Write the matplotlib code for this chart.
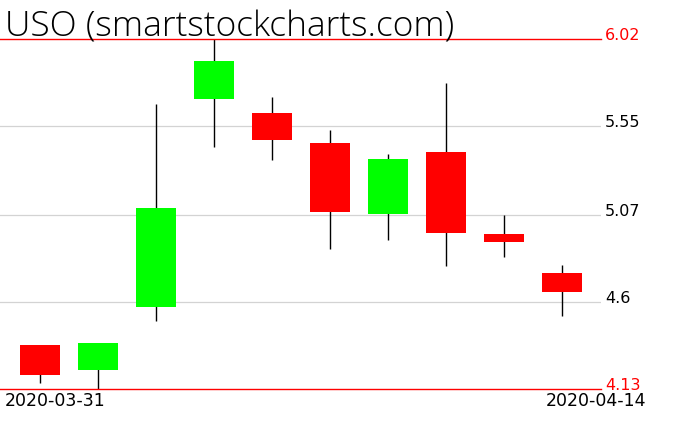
import matplotlib
matplotlib.use("Agg")
import matplotlib.pyplot as plt
from matplotlib.patches import Rectangle

# USO daily candles
dates = ["2020-03-31", "2020-04-01", "2020-04-02", "2020-04-03", "2020-04-06",
         "2020-04-07", "2020-04-08", "2020-04-09", "2020-04-13", "2020-04-14"]
opens = [4.37, 4.236, 4.576, 5.699, 5.622, 5.46, 5.077, 5.411, 4.969, 4.758]
highs = [4.37, 4.38, 5.671, 6.02, 5.708, 5.53, 5.401, 5.784, 5.071, 4.801]
lows = [4.162, 4.13, 4.50, 5.44, 5.37, 4.889, 4.938, 4.797, 4.846, 4.527]
closes = [4.209, 4.38, 5.109, 5.903, 5.478, 5.089, 5.374, 4.976, 4.927, 4.657]

grid_levels = [5.55, 5.07, 4.6]
grid_labels = ["5.55", "5.07", "4.6"]
y_max, y_min = 6.02, 4.13
title = "USO (smartstockcharts.com)"

W, H = 676, 431
fig = plt.figure(figsize=(W / 100, H / 100), dpi=100)
fig.patch.set_facecolor("white")

title_fam = ["Open Sans", "Roboto", "DejaVu Sans"]
lab_fam = ["DejaVu Sans"]
lab_size = 11.5
date_size = 12.5

# axes box in pixels: x 0..601, y 40.3..390.3 (from the top)
ax = fig.add_axes([0, 1 - 390.3 / H, 601 / W, 350 / H])
ax.set_xlim(-0.684, 9.678)
ax.set_ylim(y_min, y_max)
ax.axis("off")

for lvl in grid_levels:
    ax.axhline(lvl, color="#d3d3d3", lw=0.9, zorder=0)
ax.axhline(y_max, color="#ff0000", lw=1.0, zorder=3, clip_on=False)
ax.axhline(y_min, color="#ff0000", lw=1.0, zorder=3, clip_on=False)

bw = 0.69
for i in range(len(dates)):
    o, h, l, c = opens[i], highs[i], lows[i], closes[i]
    col = "#00ff00" if c >= o else "#ff0000"
    ax.vlines(i, l, h, color="black", lw=1.0, zorder=1, clip_on=False)
    ax.add_patch(Rectangle((i - bw / 2, min(o, c)), bw, abs(c - o),
                           facecolor=col, edgecolor="none", zorder=2))

# right-side price labels, baseline on the line
trans = ax.get_yaxis_transform()
for lvl, lab in zip(grid_levels, grid_labels):
    ax.text(1.0065, lvl, lab, transform=trans, ha="left", va="baseline",
            fontsize=lab_size, color="black", family=lab_fam, clip_on=False)
ax.text(1.0065, y_max, "6.02", transform=trans, ha="left", va="baseline",
        fontsize=lab_size, color="#ff0000", family=lab_fam, clip_on=False)
ax.text(1.0065, y_min, "4.13", transform=trans, ha="left", va="baseline",
        fontsize=lab_size, color="#ff0000", family=lab_fam, clip_on=False)

# date labels at the two ends
fig.text(5 / W, 1 - 406 / H, dates[0], ha="left", va="baseline",
         fontsize=date_size, family=lab_fam)
fig.text(646 / W, 1 - 406 / H, dates[-1], ha="right", va="baseline",
         fontsize=date_size, family=lab_fam)

fig.text(5 / W, 1 - 37 / H, title, ha="left", va="baseline",
         fontsize=25.5, family=title_fam, fontweight="light")

fig.savefig("out.png", dpi=100, facecolor="white")
